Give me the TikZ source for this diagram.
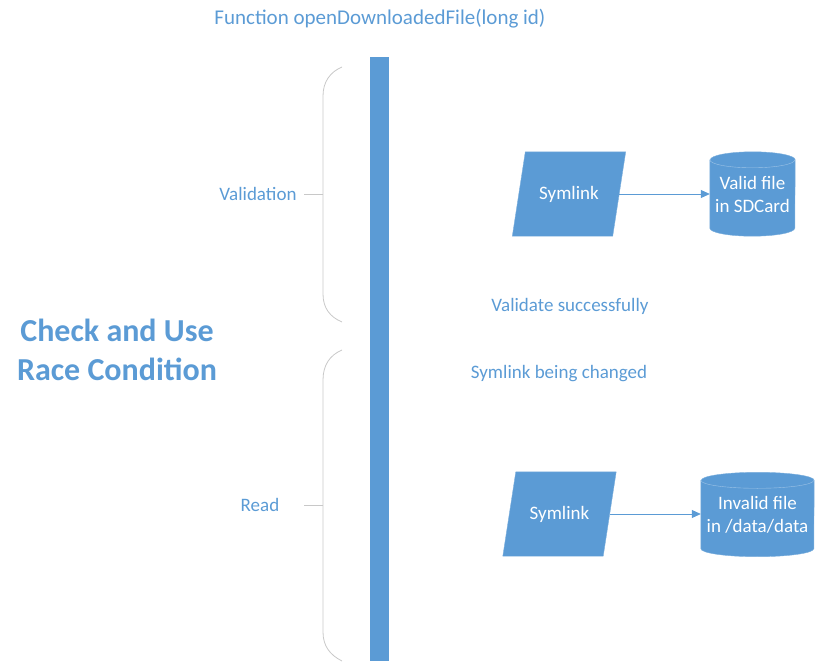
\documentclass[tikz,border=0pt]{standalone}
\usepackage{fontspec}
\setmainfont{Carlito}
\usetikzlibrary{shapes.geometric, arrows.meta, positioning, calc, backgrounds}
\definecolor{boxblue}{HTML}{5B9BD5}
\definecolor{bracegray}{HTML}{C8C8C8}

\begin{document}
\begin{tikzpicture}[
    x=1pt, y=-1pt,
    every node/.style={font=\fontsize{19}{23}\selectfont, text=boxblue},
    link/.style={rectangle, minimum height=84pt, minimum width=100pt, text=white},
    store/.style={rectangle, minimum height=84pt, text=white, align=center},
    slanted/.style={fill=boxblue, draw=boxblue!80},
    brace/.style={draw=bracegray, line width=0.8pt},
    flow/.style={-{Triangle[length=9pt,width=8pt]}, draw=boxblue, line width=0.8pt}
]
\useasboundingbox (0,0) rectangle (825,669);

% Title and timeline
\node (title) at (380,19) {\fontsize{21}{25}\selectfont Function openDownloadedFile(long id)};
\fill[boxblue] (370,57) rectangle (389,661);

\node[align=center, font=\fontsize{32}{39}\selectfont\bfseries] (race) at (117,350) {Check and Use\\Race Condition};

% Validation phase
\draw[brace] (342,67) .. controls (330,72) and (323,82) .. (323,96) -- (323,294)
    .. controls (323,308) and (330,317) .. (342,322);
\node (valid) at (258,194) {Validation};
\coordinate (vtick) at (323,194);
\draw[brace] (vtick) -- ++(-19,0);

\node[link] (link1) at (569,194) {Symlink};
\node[store, minimum width=85pt] (file1) at (752.5,194) {Valid file\\in SDCard};
\draw[flow] (link1.east) -- (file1.west |- link1.east);

\node (ok) at (570,306) {Validate successfully};
\node (change) at (559,374) {Symlink being changed};

% Read phase
\draw[brace] (342,350) .. controls (330,355) and (323,365) .. (323,380) -- (323,632)
    .. controls (323,646) and (330,655) .. (342,661);
\node (read) at (260,505) {Read};
\coordinate (rtick) at (323,505);
\draw[brace] (rtick) -- ++(-19,0);

\node[link] (link2) at (559.5,514) {Symlink};
\node[store, minimum width=113pt] (file2) at (757.5,514.5) {Invalid file\\in /data/data};
\draw[flow] (link2.east) -- (file2.west |- link2.east);

% shapes behind the labels
\begin{scope}[on background layer]
\foreach \n in {link1, link2}
    \draw[slanted] ($(\n.north west)+(6.5,0)$) -- ($(\n.north east)+(6.5,0)$)
        -- ($(\n.south east)+(-6.5,0)$) -- ($(\n.south west)+(-6.5,0)$) -- cycle;
\foreach \n/\r in {file1/42.5, file2/56.5} {
    \draw[slanted] ($(\n.north west)+(0,8)$) -- ($(\n.south west)+(0,-8)$)
        arc[start angle=180, end angle=0, x radius=\r, y radius=8]
        -- ($(\n.north east)+(0,8)$)
        arc[start angle=0, end angle=-180, x radius=\r, y radius=8] -- cycle;
    \draw[draw=boxblue!60!white] ($(\n.north west)+(0,8)$)
        arc[start angle=180, end angle=0, x radius=\r, y radius=8];
}
\end{scope}
\end{tikzpicture}
\end{document}
